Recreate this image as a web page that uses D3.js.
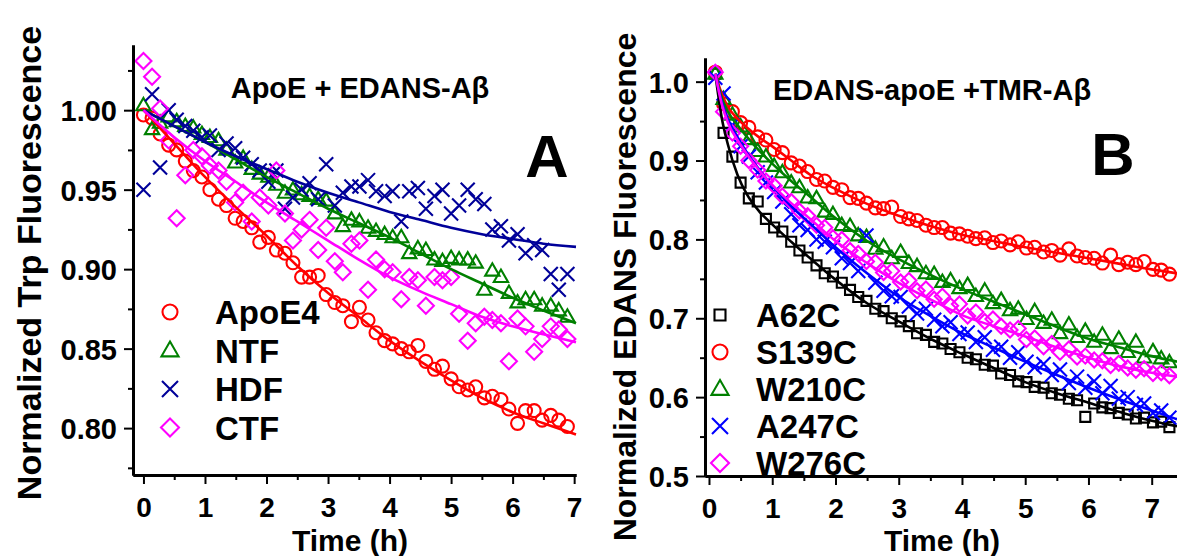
<!DOCTYPE html>
<head>
<meta charset="utf-8">
<script src="https://d3js.org/d3.v7.min.js"></script>
<style>
    body { margin: 0; background: #fff; }
    text { font-family: "Liberation Sans", Arial, sans-serif; font-weight: bold; fill: #000; }
    .axis path, .axis line { stroke: #000; }
    .axis path { stroke-width: 3px; }
    .axis line { stroke-width: 2px; }
    .mark { fill: none; stroke-width: 2.1px; }
    .fit { fill: none; stroke-width: 2.6px; }
</style>
</head>
<body>
<svg></svg>
<script>
    var width = 1177;
    var height = 556;

    // ---- panel A data (ApoE + EDANS-Abeta) ----
    var timeA = [0.00,0.14,0.27,0.41,0.54,0.68,0.81,0.95,1.08,1.22,1.35,1.49,1.62,1.76,1.89,2.03,2.16,2.30,2.43,2.57,2.70,2.84,2.97,3.11,3.24,3.38,3.51,3.65,3.78,3.92,4.05,4.19,4.32,4.46,4.59,4.73,4.86,5.00,5.13,5.27,5.40,5.54,5.67,5.81,5.94,6.08,6.21,6.35,6.48,6.62,6.75,6.89];
    var apoE4 = [0.997,0.995,0.985,0.978,0.975,0.968,0.962,0.958,0.950,0.944,0.940,0.932,0.930,0.926,0.917,0.920,0.912,0.910,0.904,0.895,0.895,0.896,0.884,0.879,0.877,0.867,0.876,0.868,0.860,0.855,0.853,0.850,0.848,0.852,0.842,0.837,0.839,0.831,0.826,0.824,0.826,0.819,0.820,0.818,0.812,0.803,0.811,0.811,0.805,0.808,0.805,0.801];
    var ntf = [1.003,0.988,0.992,0.996,0.993,0.990,0.989,0.985,0.983,0.981,0.975,0.967,0.970,0.963,0.960,0.958,0.953,0.948,0.950,0.947,0.946,0.944,0.943,0.935,0.927,0.931,0.930,0.926,0.924,0.922,0.920,0.920,0.910,0.913,0.912,0.906,0.905,0.907,0.906,0.906,0.904,0.887,0.899,0.895,0.885,0.879,0.881,0.881,0.877,0.877,0.874,0.870];
    var hdf = [0.950,1.010,0.964,1.000,0.994,0.990,0.987,0.983,0.984,0.975,0.979,0.976,0.970,0.966,0.962,0.955,0.962,0.938,0.945,0.950,0.954,0.944,0.966,0.940,0.948,0.952,0.952,0.956,0.949,0.946,0.949,0.930,0.949,0.951,0.938,0.946,0.950,0.935,0.940,0.950,0.944,0.941,0.925,0.927,0.918,0.922,0.910,0.915,0.912,0.897,0.887,0.897];
    var ctf = [1.031,1.021,1.001,0.981,0.932,0.959,0.975,0.971,0.965,0.962,0.955,0.942,0.948,0.930,0.945,0.940,0.962,0.935,0.918,0.925,0.931,0.912,0.926,0.905,0.898,0.916,0.918,0.887,0.906,0.900,0.898,0.881,0.895,0.893,0.877,0.895,0.893,0.895,0.872,0.855,0.866,0.870,0.868,0.866,0.842,0.869,0.864,0.848,0.856,0.864,0.862,0.856];

    var fitTimeA = [0,0.5,1,1.5,2,2.5,3,3.5,4,4.5,5,5.5,6,6.5,7.03];
    var apoE4Fit = [1.0,0.979,0.958,0.939,0.921,0.902,0.885,0.870,0.855,0.842,0.830,0.819,0.810,0.803,0.796];
    var ntfFit = [1.0,0.99,0.98,0.969,0.958,0.948,0.938,0.929,0.92,0.91,0.90,0.891,0.882,0.874,0.866];
    var hdfFit = [1.0,0.99,0.98,0.971,0.963,0.955,0.948,0.942,0.936,0.931,0.926,0.922,0.919,0.916,0.914];
    var ctfFit = [1.0,0.983,0.968,0.955,0.942,0.930,0.918,0.906,0.895,0.886,0.878,0.870,0.864,0.859,0.854];

    var namesA = ["ApoE4","NTF","HDF","CTF"];

    // ---- panel B data (EDANS-apoE + TMR-Abeta) ----
    var timeB = [0.10,0.23,0.37,0.50,0.63,0.77,0.90,1.03,1.16,1.30,1.43,1.56,1.70,1.83,1.96,2.10,2.23,2.36,2.49,2.63,2.76,2.89,3.03,3.16,3.29,3.43,3.56,3.69,3.82,3.96,4.09,4.22,4.36,4.49,4.62,4.76,4.89,5.02,5.15,5.29,5.42,5.55,5.69,5.82,5.95,6.09,6.22,6.35,6.48,6.62,6.75,6.88,7.02,7.15,7.28];
    var a62c = [1.010,0.935,0.905,0.872,0.852,0.848,0.826,0.815,0.810,0.797,0.786,0.777,0.767,0.757,0.753,0.745,0.736,0.727,0.722,0.712,0.709,0.700,0.696,0.690,0.681,0.679,0.670,0.668,0.661,0.657,0.650,0.648,0.641,0.640,0.630,0.628,0.620,0.619,0.613,0.612,0.605,0.603,0.598,0.596,0.575,0.592,0.587,0.586,0.580,0.578,0.573,0.574,0.568,0.569,0.562];
    var s139c = [1.012,0.972,0.962,0.948,0.942,0.930,0.926,0.914,0.910,0.897,0.893,0.886,0.876,0.874,0.866,0.863,0.853,0.852,0.846,0.840,0.839,0.841,0.829,0.826,0.824,0.818,0.815,0.815,0.808,0.807,0.804,0.801,0.802,0.796,0.798,0.793,0.797,0.789,0.790,0.784,0.786,0.780,0.788,0.779,0.777,0.776,0.770,0.780,0.768,0.771,0.768,0.772,0.762,0.761,0.756];
    var w210c = [1.010,0.978,0.958,0.943,0.927,0.912,0.905,0.893,0.885,0.872,0.866,0.853,0.852,0.835,0.832,0.818,0.817,0.805,0.803,0.788,0.791,0.776,0.784,0.770,0.766,0.757,0.756,0.746,0.748,0.738,0.742,0.728,0.735,0.719,0.723,0.710,0.712,0.699,0.709,0.694,0.698,0.681,0.692,0.676,0.684,0.670,0.679,0.662,0.674,0.657,0.670,0.650,0.658,0.649,0.644];
    var a247c = [1.005,0.985,0.945,0.918,0.905,0.885,0.872,0.860,0.848,0.832,0.818,0.812,0.800,0.797,0.790,0.776,0.770,0.760,0.805,0.745,0.735,0.728,0.727,0.715,0.706,0.712,0.698,0.690,0.695,0.680,0.682,0.670,0.676,0.660,0.664,0.650,0.657,0.645,0.638,0.642,0.628,0.635,0.618,0.626,0.612,0.620,0.605,0.614,0.598,0.600,0.590,0.592,0.580,0.583,0.574];
    var w276c = [1.012,0.962,0.935,0.918,0.900,0.888,0.874,0.868,0.855,0.848,0.836,0.830,0.818,0.815,0.802,0.800,0.786,0.782,0.772,0.771,0.758,0.760,0.746,0.748,0.735,0.737,0.724,0.728,0.716,0.718,0.703,0.708,0.696,0.699,0.690,0.685,0.687,0.673,0.675,0.664,0.668,0.657,0.661,0.651,0.652,0.647,0.646,0.640,0.643,0.637,0.634,0.636,0.630,0.631,0.627];

    var fitTimeB = [0.1,0.2,0.3,0.45,0.6,0.8,1.0,1.3,1.6,2.0,2.5,3.0,3.5,4.0,4.5,5.0,5.5,6.0,6.5,7.0,7.4];
    var a62cFit = [1.01,0.955,0.92,0.882,0.857,0.835,0.819,0.797,0.776,0.749,0.719,0.696,0.674,0.655,0.637,0.619,0.605,0.593,0.581,0.570,0.563];
    var s139cFit = [1.01,0.985,0.968,0.953,0.942,0.929,0.918,0.9,0.882,0.864,0.845,0.83,0.817,0.806,0.798,0.79,0.783,0.776,0.769,0.762,0.757];
    var w210cFit = [1.01,0.98,0.962,0.945,0.93,0.912,0.896,0.874,0.854,0.827,0.798,0.775,0.755,0.737,0.721,0.705,0.689,0.674,0.663,0.652,0.645];
    var a247cFit = [1.01,0.975,0.952,0.93,0.91,0.888,0.868,0.842,0.82,0.79,0.757,0.727,0.703,0.681,0.663,0.645,0.628,0.612,0.597,0.583,0.572];
    var w276cFit = [1.01,0.972,0.948,0.926,0.908,0.887,0.869,0.846,0.826,0.798,0.77,0.745,0.724,0.704,0.69,0.677,0.663,0.65,0.639,0.631,0.626];

    var namesB = ["A62C","S139C","W210C","A247C","W276C"];

    var svg = d3.select("svg")
        .attr("width", width)
        .attr("height", height);

    // open marker shapes, centred on 0,0
    function markerPath(shape, s) {
        var p = d3.path();
        if (shape == "circle") {
            p.moveTo(s, 0); p.arc(0, 0, s, 0, 2 * Math.PI);
        } else if (shape == "triangle") {
            p.moveTo(0, -s); p.lineTo(s * 0.95, s * 0.65); p.lineTo(-s * 0.95, s * 0.65); p.closePath();
        } else if (shape == "cross") {
            p.moveTo(-s, -s); p.lineTo(s, s); p.moveTo(-s, s); p.lineTo(s, -s);
        } else if (shape == "diamond") {
            p.moveTo(0, -s); p.lineTo(s, 0); p.lineTo(0, s); p.lineTo(-s, 0); p.closePath();
        } else if (shape == "square") {
            p.rect(-s, -s, 2 * s, 2 * s);
        }
        return p.toString();
    }

    function drawAxes(x, y, yMajor, yMinor, yFmt) {
        var xMajor = [0,1,2,3,4,5,6,7];
        var xMinor = [0.5,1.5,2.5,3.5,4.5,5.5,6.5];
        var bottom = y.range()[0];
        var left = x.range()[0];

        svg.append("g").attr("class", "axis")
            .attr("transform", "translate(0," + bottom + ")")
            .call(d3.axisBottom(x).tickValues(xMinor).tickSize(5).tickSizeOuter(0).tickFormat(""));
        var gx = svg.append("g").attr("class", "axis")
            .attr("transform", "translate(0," + bottom + ")")
            .call(d3.axisBottom(x).tickValues(xMajor).tickSize(9).tickSizeOuter(0).tickPadding(13));
        gx.selectAll("text").style("font-size", "28px").attr("dy", "0.71em");

        svg.append("g").attr("class", "axis")
            .attr("transform", "translate(" + left + ",0)")
            .call(d3.axisLeft(y).tickValues(yMinor).tickSize(5).tickSizeOuter(0).tickFormat(""));
        var gy = svg.append("g").attr("class", "axis")
            .attr("transform", "translate(" + left + ",0)")
            .call(d3.axisLeft(y).tickValues(yMajor).tickSize(9).tickSizeOuter(0).tickPadding(7).tickFormat(d3.format(yFmt)));
        gy.selectAll("text").style("font-size", "29px").attr("dy", "0.36em");
    }

    function drawSeries(x, y, times, vals, shape, size, color) {
        svg.append("g").selectAll("path")
            .data(vals)
            .enter().append("path")
            .attr("class", "mark")
            .attr("d", markerPath(shape, size))
            .attr("transform", function(d, i) { return "translate(" + x(times[i]) + "," + y(d) + ")"; })
            .style("stroke", color);
    }

    function drawFit(x, y, times, vals, color) {
        var line = d3.line()
            .x(function(d, i) { return x(times[i]); })
            .y(function(d) { return y(d); })
            .curve(d3.curveMonotoneX);
        svg.append("path").attr("class", "fit").attr("d", line(vals)).style("stroke", color);
    }

    function drawLegend(xm, xt, y0, dy, names, shapes, sizes, colors) {
        names.forEach(function(n, i) {
            svg.append("path").attr("class", "mark")
                .attr("d", markerPath(shapes[i], sizes[i]))
                .attr("transform", "translate(" + xm + "," + (y0 + i * dy) + ")")
                .style("stroke", colors[i]);
            svg.append("text")
                .attr("x", xt).attr("y", y0 + i * dy + 12)
                .style("font-size", "33px")
                .text(n);
        });
    }

    // **** PANEL A ****
    var xA = d3.scaleLinear().domain([-0.17, 7.03]).range([133, 576]);
    var yA = d3.scaleLinear().domain([0.7705, 1.041]).range([475, 45]);
    var colA = ["#ff0000", "#008000", "#000099", "#ff00ff"];
    var shapesA = ["circle", "triangle", "cross", "diamond"];

    drawSeries(xA, yA, timeA, apoE4, "circle", 6.5, colA[0]);
    drawSeries(xA, yA, timeA, ntf, "triangle", 7.5, colA[1]);
    drawSeries(xA, yA, timeA, hdf, "cross", 7, colA[2]);
    drawSeries(xA, yA, timeA, ctf, "diamond", 8, colA[3]);
    drawFit(xA, yA, fitTimeA, apoE4Fit, colA[0]);
    drawFit(xA, yA, fitTimeA, ntfFit, colA[1]);
    drawFit(xA, yA, fitTimeA, hdfFit, colA[2]);
    drawFit(xA, yA, fitTimeA, ctfFit, colA[3]);
    drawAxes(xA, yA, [0.80,0.85,0.90,0.95,1.00], [0.775,0.825,0.875,0.925,0.975,1.025], ".2f");
    drawLegend(170, 215, 312, 38.5, namesA, shapesA, [7.5, 9, 8, 9], colA);

    svg.append("text").attr("x", 360).attr("y", 98).attr("text-anchor", "middle")
        .style("font-size", "29px").text("ApoE + EDANS-A\u03b2");
    svg.append("text").attr("x", 547).attr("y", 177).attr("text-anchor", "middle")
        .style("font-size", "60px").text("A");
    svg.append("text").attr("x", 350).attr("y", 551).attr("text-anchor", "middle")
        .style("font-size", "30px").text("Time (h)");
    svg.append("text").attr("transform", "translate(41,263) rotate(-90)").attr("text-anchor", "middle")
        .style("font-size", "34px").text("Normalized Trp Fluorescence");

    // **** PANEL B ****
    var xB = d3.scaleLinear().domain([-0.063, 7.40]).range([705, 1177]);
    var yB = d3.scaleLinear().domain([0.5, 1.03]).range([476, 58]);
    var colB = ["#000000", "#ff0000", "#008000", "#0000ff", "#ff00ff"];
    var shapesB = ["square", "circle", "triangle", "cross", "diamond"];

    drawSeries(xB, yB, timeB, a62c, "square", 5, colB[0]);
    drawSeries(xB, yB, timeB, s139c, "circle", 6.5, colB[1]);
    drawSeries(xB, yB, timeB, w210c, "triangle", 7.5, colB[2]);
    drawSeries(xB, yB, timeB, a247c, "cross", 7, colB[3]);
    drawSeries(xB, yB, timeB, w276c, "diamond", 7.5, colB[4]);
    drawFit(xB, yB, fitTimeB, a62cFit, colB[0]);
    drawFit(xB, yB, fitTimeB, s139cFit, colB[1]);
    drawFit(xB, yB, fitTimeB, w210cFit, colB[2]);
    drawFit(xB, yB, fitTimeB, a247cFit, colB[3]);
    drawFit(xB, yB, fitTimeB, w276cFit, colB[4]);
    drawAxes(xB, yB, [0.5,0.6,0.7,0.8,0.9,1.0], [0.55,0.65,0.75,0.85,0.95], ".1f");
    drawLegend(720, 756, 315, 37, namesB, shapesB, [5.5, 7.5, 9, 8, 9], colB);

    svg.append("text").attr("x", 932).attr("y", 100).attr("text-anchor", "middle")
        .style("font-size", "29px").text("EDANS-apoE +TMR-A\u03b2");
    svg.append("text").attr("x", 1113).attr("y", 175).attr("text-anchor", "middle")
        .style("font-size", "60px").text("B");
    svg.append("text").attr("x", 942).attr("y", 551).attr("text-anchor", "middle")
        .style("font-size", "30px").text("Time (h)");
    svg.append("text").attr("transform", "translate(636,287) rotate(-90)").attr("text-anchor", "middle")
        .style("font-size", "32px").text("Normalized EDANS Fluorescence");
</script>
</body>
